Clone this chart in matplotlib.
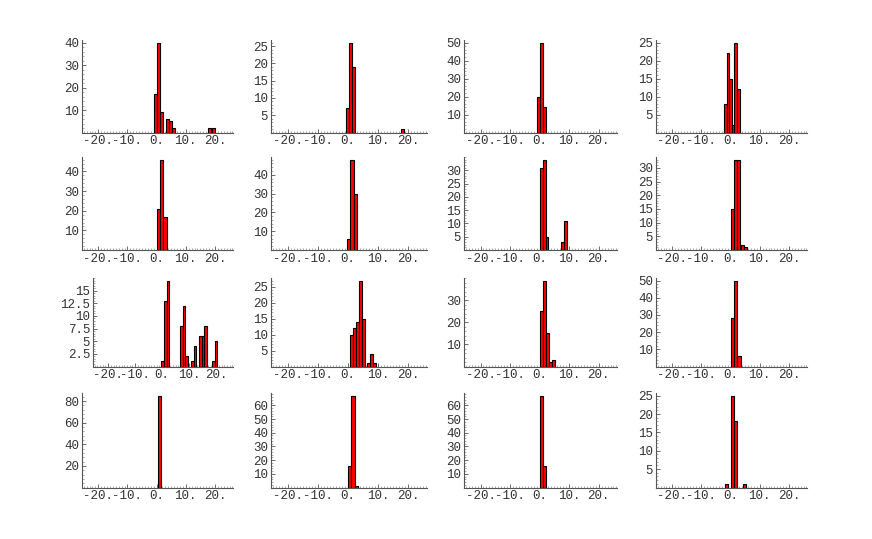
import matplotlib
matplotlib.use("Agg")
import matplotlib.pyplot as plt
from matplotlib.ticker import MultipleLocator, AutoMinorLocator

# ---------------- data (bin centers, counts, bin width) ----------------
c01 = [-0.3, 0.7, 1.75, 3.8, 4.8, 5.85, 18.3, 19.35]
n01 = [17, 40, 9, 6, 5, 2, 2, 2]
c02 = [-0.3, 0.7, 1.7, 18.0]
n02 = [7, 26, 19, 1]
c03 = [-0.3, 0.7, 1.7]
n03 = [20, 50, 14]
c04 = [-1.85, -0.95, -0.05, 0.85, 1.75, 2.65]
n04 = [8, 22, 15, 2, 25, 12]
c05 = [0.6, 1.75, 2.9]
n05 = [21, 46, 17]
c06 = [0.1, 1.25, 2.4]
n06 = [6, 48, 30]
c07 = [0.5, 1.5, 2.5, 7.9, 8.9]
n07 = [31, 34, 5, 3, 11]
c08 = [0.6, 1.7, 2.8, 4.2, 5.2]
n08 = [15, 33, 33, 2, 1]
c09 = [0.15, 1.15, 2.15, 7.05, 8.05, 9.05, 11.1, 12.1, 14.05, 15.05, 16.05, 18.9, 19.9]
n09 = [1, 13, 17, 8, 12, 2, 1, 4, 6, 6, 8, 1, 5]
c10 = [1.2, 2.15, 3.1, 4.05, 5.0, 6.9, 7.85, 8.8]
n10 = [10, 12, 14, 27, 15, 1, 4, 1]
c11 = [0.5, 1.55, 2.6, 3.65, 4.7]
n11 = [25, 39, 15, 2, 3]
c12 = [0.7, 1.8, 2.9]
n12 = [28, 50, 6]
c13 = [0.9]
n13 = [85]
c14 = [0.55, 1.65, 2.75]
n14 = [16, 67, 1]
c15 = [0.6, 1.7]
n15 = [67, 16]
c16 = [-1.3, 0.7, 1.7, 4.7]
n16 = [1, 25, 18, 1]

bin_widths = [1.03, 1.0, 1.0, 0.9, 1.15, 1.15, 1.0, 1.1,
              1.0, 0.95, 1.05, 1.1, 1.15, 1.1, 1.05, 1.0]
y_tick_steps = [10, 5, 10, 5, 10, 10, 5, 5,
                2.5, 5, 10, 10, 20, 10, 10, 5]

x_ticks = [-20, -10, 0, 10, 20]
x_tick_labels = ["-20.", "-10.", "0.", "10.", "20."]

centers = [c01, c02, c03, c04, c05, c06, c07, c08,
           c09, c10, c11, c12, c13, c14, c15, c16]
counts = [n01, n02, n03, n04, n05, n06, n07, n08,
          n09, n10, n11, n12, n13, n14, n15, n16]

# ---------------- layout (pixels) ----------------
W, H = 872, 539
col_lr = [(82, 233), (271, 427), (464, 617), (656, 807)]
row_tb = [(40, 132.5), (157, 250), (278, 366.5), (393, 487.5)]
XMIN, XMAX = -25.6, 26.2

plt.rcParams['font.family'] = ['Liberation Mono', 'DejaVu Sans Mono']
fig = plt.figure(figsize=(W / 100, H / 100), dpi=100)
fig.patch.set_facecolor('white')

axis_col = '#555555'
for i in range(16):
    r, c = divmod(i, 4)
    l, rr = col_lr[c]
    if i == 8:
        l = 93
    t, b = row_tb[r]
    ax = fig.add_axes([l / W, 1 - b / H, (rr - l) / W, (b - t) / H])
    ax.bar(centers[i], counts[i], width=bin_widths[i], color='#ff0000',
           edgecolor='black', linewidth=0.8, align='center', zorder=3)
    ymax = max(counts[i])
    ax.set_xlim(XMIN, XMAX)
    ax.set_ylim(0, ymax * 1.03)
    for s in ['top', 'right']:
        ax.spines[s].set_visible(False)
    for s in ['left', 'bottom']:
        ax.spines[s].set_color(axis_col)
        ax.spines[s].set_linewidth(0.8)
    ax.set_xticks(x_ticks)
    ax.set_xticklabels(x_tick_labels)
    ax.xaxis.set_minor_locator(MultipleLocator(1))
    step = y_tick_steps[i]
    yt = []
    v = step
    while v <= ymax:
        yt.append(v)
        v += step
    ax.set_yticks(yt)
    ax.set_yticklabels([("%g" % v) for v in yt])
    ax.yaxis.set_minor_locator(AutoMinorLocator(5))
    ax.tick_params(which='major', direction='in', length=3, width=0.6,
                   color=axis_col, labelsize=9, labelcolor='#333333', pad=2)
    ax.tick_params(which='minor', direction='in', length=1.5, width=0.5,
                   color='#888888')
    ax.set_facecolor('white')

fig.savefig('out.png', dpi=100, facecolor='white')
